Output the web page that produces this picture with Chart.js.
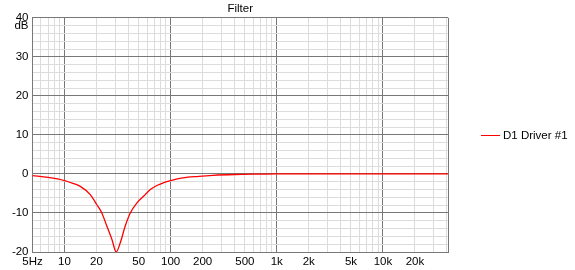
<!DOCTYPE html>
<html>
<head>
<meta charset="utf-8">
<script src="https://cdn.jsdelivr.net/npm/chart.js@4.4.1/dist/chart.umd.min.js"></script>
<style>
  html, body { margin: 0; padding: 0; background: #fff; }
  #wrap { width: 575px; height: 270px; }
</style>
</head>
<body>
<div id="wrap"><canvas id="myChart" width="575" height="270"></canvas></div>
<script>
// frequency response (Hz / dB)
const freqs  = [5, 7, 10, 12, 14.1, 17.5, 20.2, 22.5, 25.1, 28, 30.7, 33.5, 37.3, 41.7, 48.2, 57.7, 64.4, 75, 85, 100, 130, 184, 250, 400, 700, 1000, 2000, 5000, 10000, 20000, 41000];
const gainDb = [-0.44, -0.9, -1.7, -2.4, -3.2, -5.3, -7.9, -10, -13.4, -16.8, -20, -17.7, -13.4, -10, -7.4, -5.3, -4.0, -2.9, -2.3, -1.7, -1.0, -0.6, -0.35, -0.15, -0.05, 0, 0, 0, 0, 0, 0];

const xTickValues = [5, 10, 20, 50, 100, 200, 500, 1000, 2000, 5000, 10000, 20000];
const xTickText   = ['5Hz', '10', '20', '50', '100', '200', '500', '1k', '2k', '5k', '10k', '20k'];
const xMajor      = [10, 100, 1000, 10000];
const yMin = -20, yMax = 40;

const seriesName = 'D1 Driver #1';
const lineColor = '#ff0000';
const majorGrid = '#787878';
const minorGrid = '#dcdcdc';
const fontFamily = '"Liberation Sans", Arial, sans-serif';

document.addEventListener('DOMContentLoaded', function() {
    const ctx = document.getElementById('myChart').getContext('2d');
    Chart.defaults.font.family = fontFamily;
    Chart.defaults.font.size = 11.5;
    Chart.defaults.color = '#000';

    const points = freqs.map((f, i) => ({ x: f, y: gainDb[i] }));

    // dB unit under the top tick + legend on the right
    const extras = {
        id: 'extras',
        afterDraw(chart) {
            const c = chart.ctx;
            const area = chart.chartArea;
            c.save();
            c.font = '11.5px ' + fontFamily;
            c.fillStyle = '#000';
            c.textAlign = 'right';
            c.textBaseline = 'middle';
            c.fillText('dB', area.left - 4, area.top + 8);

            const ly = Math.round((area.top + area.bottom) / 2) + 0.5;
            c.strokeStyle = chart.data.datasets[0].borderColor;
            c.lineWidth = 1;
            c.beginPath();
            c.moveTo(481, ly);
            c.lineTo(500, ly);
            c.stroke();
            c.textAlign = 'left';
            c.fillText(chart.data.datasets[0].label, 503, ly);
            c.restore();
        }
    };

    const config = {
        type: 'line',
        data: {
            datasets: [{
                label: seriesName,
                data: points,
                borderColor: lineColor,
                borderWidth: 1.3,
                pointRadius: 0,
                fill: false,
                cubicInterpolationMode: 'monotone'
            }]
        },
        options: {
            responsive: false,
            animation: false,
            layout: { padding: { left: 0, right: 127, top: 0, bottom: 0 } },
            scales: {
                x: {
                    type: 'logarithmic',
                    min: 5,
                    max: 41000,
                    afterBuildTicks(scale) {
                        // grid at 1..9 x each decade, plus the frame at max
                        const t = [];
                        for (let d = 1; d <= 10000; d *= 10) {
                            for (let m = 1; m <= 9; m++) {
                                const v = m * d;
                                if (v >= 5 && v < 41000) t.push({ value: v });
                            }
                        }
                        t.push({ value: 41000 });
                        scale.ticks = t;
                    },
                    afterFit(scale) { scale.height = 18; },
                    ticks: {
                        autoSkip: false,
                        maxRotation: 0,
                        padding: 3,
                        callback: function(value) {
                            const i = xTickValues.indexOf(value);
                            return i >= 0 ? xTickText[i] : '';
                        }
                    },
                    grid: {
                        drawTicks: false,
                        color: function(c) {
                            const v = c.tick && c.tick.value;
                            return (xMajor.includes(v) || v === 41000) ? majorGrid : minorGrid;
                        }
                    },
                    border: { display: true, color: majorGrid }
                },
                y: {
                    min: yMin,
                    max: yMax,
                    afterFit(scale) { scale.width = 32.5; },
                    ticks: {
                        stepSize: 2,
                        autoSkip: false,
                        padding: 4,
                        callback: function(value) {
                            return value % 10 === 0 ? String(value) : '';
                        }
                    },
                    grid: {
                        drawTicks: false,
                        color: function(c) {
                            const v = c.tick && c.tick.value;
                            return v % 10 === 0 ? majorGrid : minorGrid;
                        }
                    },
                    border: { display: true, color: majorGrid }
                }
            },
            plugins: {
                legend: { display: false },
                tooltip: { enabled: false },
                title: {
                    display: true,
                    text: 'Filter',
                    fullSize: false,
                    color: '#000',
                    font: { size: 11.5, weight: 'normal' },
                    padding: { top: 2, bottom: 2 }
                }
            }
        },
        plugins: [extras]
    };

    new Chart(ctx, config);
});
</script>
</body>
</html>
